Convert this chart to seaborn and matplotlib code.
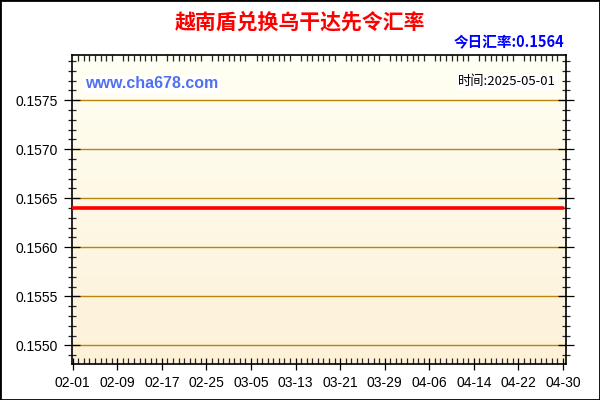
import numpy as np
import pandas as pd
import matplotlib
matplotlib.use("Agg")
import matplotlib.pyplot as plt
import matplotlib.dates as mdates
from matplotlib.ticker import MultipleLocator
import seaborn as sns

# --- data: VND -> UGX daily rate, 2025-02-01 .. 2025-04-30 (flat line) ---
dates = pd.date_range("2025-02-01", "2025-04-30", freq="D")
rates = [
    0.1564, 0.1564, 0.1564, 0.1564, 0.1564, 0.1564, 0.1564, 0.1564, 0.1564, 0.1564,
    0.1564, 0.1564, 0.1564, 0.1564, 0.1564, 0.1564, 0.1564, 0.1564, 0.1564, 0.1564,
    0.1564, 0.1564, 0.1564, 0.1564, 0.1564, 0.1564, 0.1564, 0.1564, 0.1564, 0.1564,
    0.1564, 0.1564, 0.1564, 0.1564, 0.1564, 0.1564, 0.1564, 0.1564, 0.1564, 0.1564,
    0.1564, 0.1564, 0.1564, 0.1564, 0.1564, 0.1564, 0.1564, 0.1564, 0.1564, 0.1564,
    0.1564, 0.1564, 0.1564, 0.1564, 0.1564, 0.1564, 0.1564, 0.1564, 0.1564, 0.1564,
    0.1564, 0.1564, 0.1564, 0.1564, 0.1564, 0.1564, 0.1564, 0.1564, 0.1564, 0.1564,
    0.1564, 0.1564, 0.1564, 0.1564, 0.1564, 0.1564, 0.1564, 0.1564, 0.1564, 0.1564,
    0.1564, 0.1564, 0.1564, 0.1564, 0.1564, 0.1564, 0.1564, 0.1564, 0.1564,
]
title = "越南盾兑换乌干达先令汇率"
today_rate = "今日汇率:0.1564"
site = "www.cha678.com"
stamp = "时间:2025-05-01"

df = pd.DataFrame({"date": dates, "rate": rates})

sns.set_style("ticks")
plt.rcParams["font.family"] = ["Liberation Sans", "Noto Sans CJK SC", "DejaVu Sans"]
cjk = ["Noto Sans CJK SC", "DejaVu Sans"]

fig = plt.figure(figsize=(6, 4), dpi=100)
ax = fig.add_axes([0.12, 0.09, 0.823, 0.7725])

# background gradient (ivory at top -> light beige at bottom)
grad = np.linspace(0, 1, 256).reshape(-1, 1)
cmap = matplotlib.colors.LinearSegmentedColormap.from_list("bg", ["#FFFFF3", "#FDF1D8"])
ax.imshow(grad, aspect="auto", cmap=cmap, extent=[0, 1, 0, 1], origin="upper",
          transform=ax.transAxes, zorder=0)

sns.lineplot(data=df, x="date", y="rate", ax=ax, color="#FF0000", linewidth=2.6, zorder=3)

ax.set_xlim(dates[0] - pd.Timedelta(hours=3), dates[-1] + pd.Timedelta(hours=12))
ax.set_ylim(0.15481, 0.15796)

ax.yaxis.set_major_locator(MultipleLocator(0.0005))
ax.yaxis.set_minor_locator(MultipleLocator(0.0001))
ax.yaxis.set_major_formatter(matplotlib.ticker.FormatStrFormatter("%.4f"))
ax.grid(axis="y", which="major", color="#B8860B", linewidth=1.0, zorder=1)

ax.set_xticks(dates[::8])
ax.xaxis.set_minor_locator(mdates.DayLocator())
ax.xaxis.set_major_formatter(mdates.DateFormatter("%m-%d"))

ax.tick_params(axis="both", which="major", labelsize=10, colors="black", width=0.9)
ax.tick_params(axis="y", which="major", direction="inout", length=12, right=True, pad=4)
ax.tick_params(axis="y", which="minor", direction="inout", length=6, right=True, width=0.9)
ax.tick_params(axis="x", which="major", direction="inout", length=9, top=False, pad=4)
ax.tick_params(axis="x", which="minor", direction="in", length=4, top=True, width=0.9)
for s in ax.spines.values():
    s.set_visible(True)
    s.set_linewidth(1.2)
    s.set_color("black")
ax.set_xlabel("")
ax.set_ylabel("")

fig.text(0.5, 0.945, title, ha="center", va="center", fontsize=15,
         fontweight="bold", color="#FF0000", family=cjk)
fig.text(0.94, 0.895, today_rate, ha="right", va="center", fontsize=10.5,
         fontweight="bold", color="#0000FF", family=cjk)
fig.text(0.142, 0.79, site, ha="left", va="center", fontsize=11.5,
         fontweight="bold", color="#5070F0", family=["Liberation Sans", "DejaVu Sans"],
         bbox=dict(facecolor="white", edgecolor="none", pad=1))
fig.text(0.927, 0.795, stamp, ha="right", va="center", fontsize=9.5, color="black",
         family=cjk, bbox=dict(facecolor="white", edgecolor="none", pad=1))

# outer frame
fig.patches.append(matplotlib.patches.Rectangle((0, 0), 1, 1, transform=fig.transFigure,
                                                fill=False, edgecolor="black", linewidth=2))

fig.savefig("out.png", dpi=100)
